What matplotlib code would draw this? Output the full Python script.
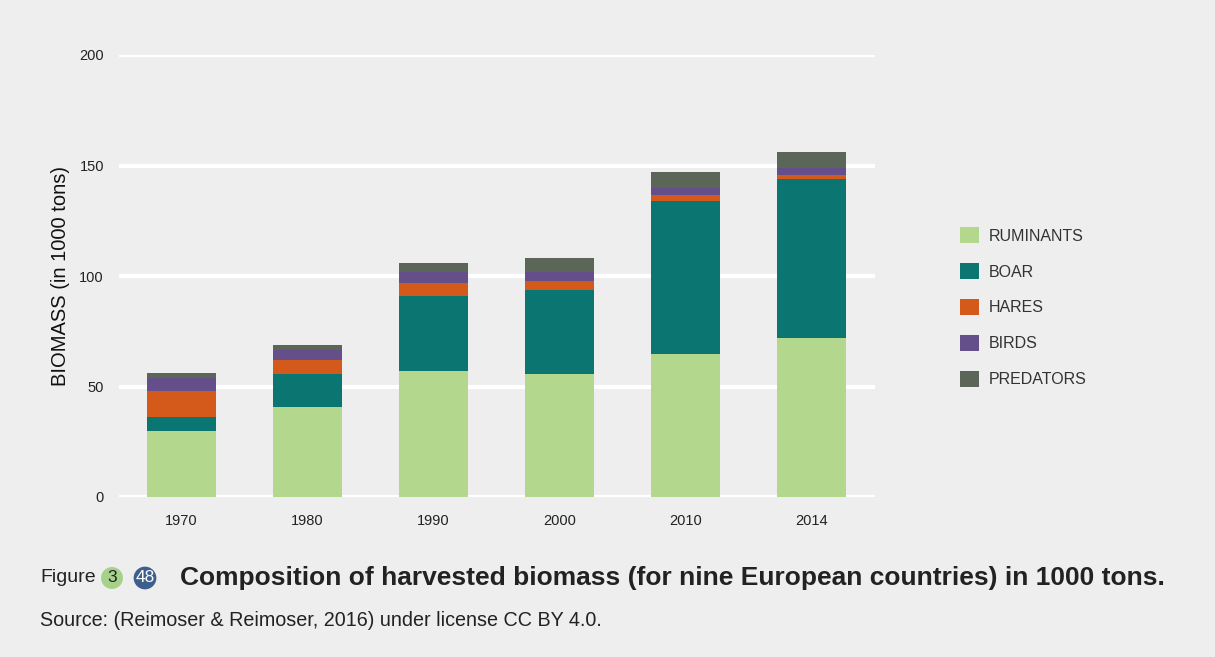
import matplotlib.pyplot as plt
import numpy as np

plt.rcParams["font.family"] = ["Liberation Sans", "DejaVu Sans"]

years = ["1970", "1980", "1990", "2000", "2010", "2014"]
series_names = ["RUMINANTS", "BOAR", "HARES", "BIRDS", "PREDATORS"]
ruminants = [30, 40.7, 57, 55.7, 64.7, 72]
boar = [6.2, 15, 34, 38, 69.2, 71.9]
hares = [11.8, 6.3, 5.8, 4, 2.8, 1.8]
birds = [6, 4.5, 5, 4.1, 3.3, 3.2]
predators = [2.1, 2.5, 4.1, 6.3, 7, 7.2]
colors = ["#b3d88d", "#0b7571", "#d35a1a", "#654f8a", "#5b6659"]

bg = "#eeeeee"
fig = plt.figure(figsize=(12.15, 6.57), dpi=100, facecolor=bg)
W, H = 1215, 657
ax = fig.add_axes([118.5 / W, 1 - 497 / H, 756 / W, 442 / H], facecolor=bg)

x = np.arange(len(years))
bottom = np.zeros(len(years))
for name, vals, c in zip(series_names, [ruminants, boar, hares, birds, predators], colors):
    ax.bar(x, vals, width=0.55, bottom=bottom, color=c, label=name, zorder=3)
    bottom += np.array(vals)

ax.set_xlim(-0.5, 5.5)
ax.set_ylim(0, 200)
ax.set_yticks([0, 50, 100, 150, 200])
ax.set_xticks(x, years)
ax.yaxis.grid(True, color="white", linewidth=3, zorder=0)
ax.set_axisbelow(True)
for s in ax.spines.values():
    s.set_visible(False)
ax.tick_params(length=0, labelsize=10.5, colors="#222222")
ax.tick_params(axis="y", pad=10.5)
ax.tick_params(axis="x", pad=12)
ax.set_ylabel("BIOMASS (in 1000 tons)", fontsize=14.5, color="#111111", labelpad=7)

ax.legend(loc="upper left", bbox_to_anchor=(946 / W, 1 - 213 / H), bbox_transform=fig.transFigure,
          frameon=False, fontsize=11.5, handlelength=1.15, handleheight=1.15,
          labelspacing=1.22, handletextpad=0.65, labelcolor="#333333")

fig.text(40 / W, 1 - 578 / H, "Figure", fontsize=14, color="#222222", va="center")
fig.text(112 / W, 1 - 578 / H, "3", fontsize=12.5, color="#222222", va="center", ha="center",
         bbox=dict(boxstyle="circle,pad=0.2", fc="#a6d18a", ec="none"))
fig.text(145 / W, 1 - 578 / H, "48", fontsize=12.5, color="white", va="center", ha="center",
         bbox=dict(boxstyle="circle,pad=0.1", fc="#3e5f8e", ec="none"))
fig.text(180 / W, 1 - 578 / H,
         "Composition of harvested biomass (for nine European countries) in 1000 tons.",
         fontsize=19, fontweight="bold", color="#222222", va="center")
fig.text(40 / W, 1 - 620 / H, "Source: (Reimoser & Reimoser, 2016) under license CC BY 4.0.",
         fontsize=14.2, color="#222222", va="center")

fig.savefig("out.png", dpi=100, facecolor=bg)
